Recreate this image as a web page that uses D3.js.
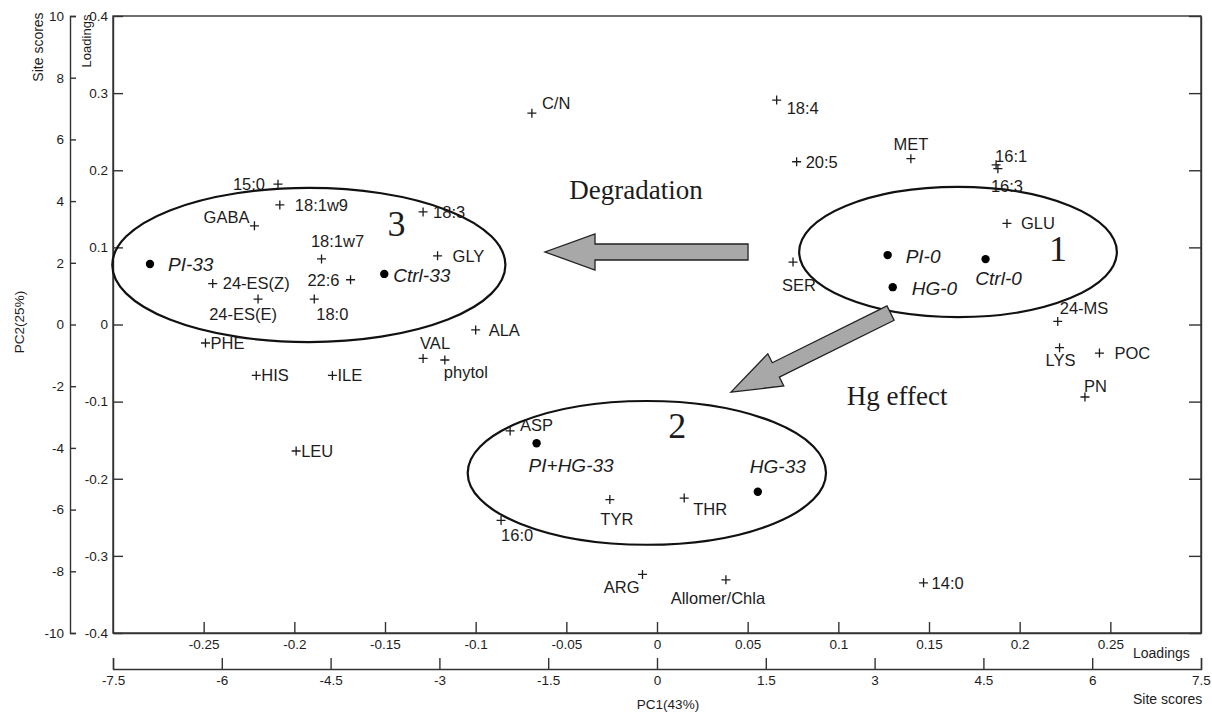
<!DOCTYPE html>
<html>
<head>
<meta charset="utf-8">
<script src="https://cdn.jsdelivr.net/npm/d3@7"></script>
<style>
  html, body { margin: 0; padding: 0; background: #fff; }
  svg { display: block; }
  text { font-family: "Liberation Sans", Arial, sans-serif; fill: #1c1c1c; }
  .serif { font-family: "Liberation Serif", "Times New Roman", serif; }
</style>
</head>
<body>
<svg id="chart" width="1212" height="712"></svg>
<script>
// Variable loadings (crosses), PC1 / PC2
const speciesNames = ["C/N", "18:4", "20:5", "MET", "16:1", "16:3", "GLU", "SER", "24-MS", "LYS", "POC", "PN",
  "15:0", "18:1w9", "GABA", "18:3", "18:1w7", "GLY", "24-ES(Z)", "22:6", "24-ES(E)", "18:0", "ALA", "PHE",
  "VAL", "phytol", "HIS", "ILE", "LEU", "ASP", "TYR", "THR", "16:0", "ARG", "Allomer/Chla", "14:0"];
const pc1Loadings = [-0.069, 0.066, 0.077, 0.140, 0.187, 0.188, 0.193, 0.075, 0.221, 0.222, 0.244, 0.236,
  -0.209, -0.208, -0.222, -0.129, -0.185, -0.121, -0.245, -0.169, -0.220, -0.189, -0.100, -0.249,
  -0.129, -0.117, -0.221, -0.179, -0.199, -0.081, -0.026, 0.015, -0.086, -0.008, 0.038, 0.147];
const pc2Loadings = [0.274, 0.291, 0.211, 0.215, 0.207, 0.202, 0.131, 0.081, 0.004, -0.030, -0.037, -0.094,
  0.182, 0.155, 0.128, 0.146, 0.085, 0.089, 0.053, 0.058, 0.033, 0.033, -0.007, -0.024,
  -0.044, -0.046, -0.066, -0.066, -0.164, -0.138, -0.227, -0.225, -0.254, -0.324, -0.331, -0.335];

// Site scores (dots), PC1 / PC2
const siteNames = ["PI-33", "Ctrl-33", "PI-0", "Ctrl-0", "HG-0", "PI+HG-33", "HG-33"];
const pc1Scores = [-6.99, -3.76, 3.18, 4.53, 3.25, -1.66, 1.39];
const pc2Scores = [1.96, 1.64, 2.25, 2.12, 1.21, -3.85, -5.42];

// Groupings drawn as ellipses (site-score units): number, centre, radii
const clusterIds = ["1", "2", "3"];
const clusterCx = [4.15, -0.14, -4.80];
const clusterCy = [2.35, -4.81, 1.93];
const clusterRx = [2.19, 2.47, 2.71];
const clusterRy = [2.11, 2.33, 2.50];

// Axis tick values
const loadingXTicks = [-0.25, -0.2, -0.15, -0.1, -0.05, 0, 0.05, 0.1, 0.15, 0.2, 0.25];
const loadingYTicks = [-0.4, -0.3, -0.2, -0.1, 0, 0.1, 0.2, 0.3, 0.4];
const scoreXTicks = [-7.5, -6, -4.5, -3, -1.5, 0, 1.5, 3, 4.5, 6, 7.5];
const scoreYTicks = [-10, -8, -6, -4, -2, 0, 2, 4, 6, 8, 10];

// Label placement: [dx, dy, anchor]
const speciesLabelPos = {
  "C/N": [10, -10, "start"], "18:4": [10, 8, "start"], "20:5": [9, 0, "start"], "MET": [0, -14, "middle"],
  "16:1": [-1, -9, "start"], "16:3": [-7, 18, "start"], "GLU": [14, 0, "start"], "SER": [6, 23, "middle"],
  "24-MS": [2, -13, "start"], "LYS": [1, 13, "middle"], "POC": [15, 0, "start"], "PN": [-1, -11, "start"],
  "15:0": [-13, 0, "end"], "18:1w9": [15, 0, "start"], "GABA": [-5, -9, "end"], "18:3": [10, 0, "start"],
  "18:1w7": [16, -18, "middle"], "GLY": [15, 0, "start"], "24-ES(Z)": [10, 0, "start"], "22:6": [-11, 0, "end"],
  "24-ES(E)": [-15, 15, "middle"], "18:0": [2, 15, "start"], "ALA": [13, 0, "start"], "PHE": [5, 0, "start"],
  "VAL": [12, -15, "middle"], "phytol": [-1, 12, "start"], "HIS": [5, 0, "start"], "ILE": [5, 0, "start"],
  "LEU": [5, 0, "start"], "ASP": [10, -6, "start"], "TYR": [7, 20, "middle"], "THR": [9, 11, "start"],
  "16:0": [0, 15, "start"], "ARG": [-3, 13, "end"], "Allomer/Chla": [-8, 18, "middle"], "14:0": [8, 0, "start"]
};
const siteLabelPos = {
  "PI-33": [18, 0, "start"], "Ctrl-33": [9, 1, "start"], "PI-0": [18, 1, "start"], "Ctrl-0": [13, 19, "middle"],
  "HG-0": [19, 1, "start"], "PI+HG-33": [-8, 22, "start"], "HG-33": [-8, -25, "start"]
};

(function () {
  const svg = d3.select("#chart");
  const plotLeft = 113, plotRight = 1201, plotTop = 16, plotBottom = 633;

  const xL = d3.scaleLinear().domain([-0.3, 0.3]).range([plotLeft, plotRight]);
  const yL = d3.scaleLinear().domain([-0.4, 0.4]).range([plotBottom, plotTop]);
  const xS = d3.scaleLinear().domain([-7.5, 7.5]).range([plotLeft, plotRight]);
  const yS = d3.scaleLinear().domain([-10, 10]).range([plotBottom, plotTop]);

  const fmt = d => d === 0 ? "0" : String(+d.toFixed(2));

  function styleAxis(g, size) {
    g.select(".domain").attr("stroke", "#333").attr("stroke-width", 1.4);
    g.selectAll(".tick line").attr("stroke", "#333").attr("stroke-width", 1.4);
    g.selectAll(".tick text").attr("font-size", size).attr("fill", "#1c1c1c")
      .attr("font-family", "'Liberation Sans', Arial, sans-serif");
  }

  // Plot frame
  svg.append("rect").attr("x", plotLeft).attr("y", plotTop)
    .attr("width", plotRight - plotLeft).attr("height", plotBottom - plotTop)
    .attr("fill", "none").attr("stroke", "#333").attr("stroke-width", 1.4);

  // Loadings axes on the frame
  svg.append("g").attr("transform", `translate(0,${plotBottom})`)
    .call(d3.axisBottom(xL).tickValues(loadingXTicks).tickFormat(fmt).tickSize(-11).tickSizeOuter(0).tickPadding(6))
    .call(g => styleAxis(g, 13.5));
  svg.append("g").attr("transform", `translate(${plotLeft},0)`)
    .call(d3.axisLeft(yL).tickValues(loadingYTicks).tickFormat(fmt).tickSize(-10).tickSizeOuter(0).tickPadding(5))
    .call(g => styleAxis(g, 13.5));
  svg.append("g").attr("transform", `translate(${plotRight},0)`)
    .call(d3.axisRight(yL).tickValues(loadingYTicks).tickFormat("").tickSize(-12).tickSizeOuter(0))
    .call(g => styleAxis(g, 13.5));

  // Site-score axes, offset from the frame
  svg.append("g").attr("transform", "translate(0,669)")
    .call(d3.axisBottom(xS).tickValues(scoreXTicks).tickFormat(fmt).tickSize(-11).tickSizeOuter(-11).tickPadding(6))
    .call(g => styleAxis(g, 13.5));
  svg.append("g").attr("transform", "translate(70,0)")
    .call(d3.axisLeft(yS).tickValues(scoreYTicks).tickFormat(fmt).tickSize(-6).tickSizeOuter(-6).tickPadding(6))
    .call(g => styleAxis(g, 13.5));

  // Axis titles
  svg.append("text").attr("x", 1133).attr("y", 658).attr("font-size", 14).text("Loadings");
  svg.append("text").attr("x", 1133).attr("y", 704).attr("font-size", 14).text("Site scores");
  svg.append("text").attr("x", 668).attr("y", 709).attr("font-size", 13.5).attr("text-anchor", "middle").text("PC1(43%)");
  svg.append("text").attr("transform", "translate(24,322) rotate(-90)").attr("font-size", 13.5)
    .attr("text-anchor", "middle").text("PC2(25%)");
  svg.append("text").attr("transform", "translate(43,47) rotate(-90)").attr("font-size", 14)
    .attr("text-anchor", "middle").text("Site scores");
  svg.append("text").attr("transform", "translate(91,41) rotate(-90)").attr("font-size", 13)
    .attr("text-anchor", "middle").text("Loadings");

  // Cluster ellipses and their numbers
  const clusterTextPos = { "1": [5.53, 2.48], "2": [0.28, -3.26], "3": [-3.59, 3.29] };
  clusterIds.forEach((id, i) => {
    svg.append("ellipse")
      .attr("cx", xS(clusterCx[i])).attr("cy", yS(clusterCy[i]))
      .attr("rx", xS(clusterRx[i]) - xS(0)).attr("ry", yS(0) - yS(clusterRy[i]))
      .attr("fill", "none").attr("stroke", "#111").attr("stroke-width", 2.2);
    const p = clusterTextPos[id];
    svg.append("text").attr("class", "serif").attr("x", xS(p[0])).attr("y", yS(p[1]))
      .attr("dy", "0.35em").attr("text-anchor", "middle").attr("font-size", 36).text(id);
  });

  // Block arrows
  function blockArrow(x0, y0, x1, y1, shaftHalf, headHalf, headLen) {
    const dx = x1 - x0, dy = y1 - y0, len = Math.hypot(dx, dy);
    const ux = dx / len, uy = dy / len, px = -uy, py = ux;
    const bx = x1 - ux * headLen, by = y1 - uy * headLen;
    const pts = [
      [x0 + px * shaftHalf, y0 + py * shaftHalf],
      [bx + px * shaftHalf, by + py * shaftHalf],
      [bx + px * headHalf, by + py * headHalf],
      [x1, y1],
      [bx - px * headHalf, by - py * headHalf],
      [bx - px * shaftHalf, by - py * shaftHalf],
      [x0 - px * shaftHalf, y0 - py * shaftHalf]
    ];
    return "M" + pts.map(p => p.join(",")).join("L") + "Z";
  }
  const arrows = [
    { from: [1.255, 2.35], to: [-1.544, 2.35], label: "Degradation", at: [-0.29, 4.36] },
    { from: [3.22, 0.37], to: [1.02, -2.19], label: "Hg effect", at: [3.31, -2.29] }
  ];
  arrows.forEach(a => {
    svg.append("path")
      .attr("d", blockArrow(xS(a.from[0]), yS(a.from[1]), xS(a.to[0]), yS(a.to[1]), 8, 18, 50))
      .attr("fill", "#a8a8a8").attr("stroke", "#222").attr("stroke-width", 1.3);
    svg.append("text").attr("class", "serif").attr("x", xS(a.at[0])).attr("y", yS(a.at[1]))
      .attr("dy", "0.35em").attr("text-anchor", "middle").attr("font-size", 27).text(a.label);
  });

  // Variable crosses
  const species = speciesNames.map((n, i) => ({ name: n, x: pc1Loadings[i], y: pc2Loadings[i] }));
  const sp = svg.append("g");
  sp.selectAll("path").data(species).join("path")
    .attr("transform", d => `translate(${xL(d.x)},${yL(d.y)})`)
    .attr("d", "M-4.5,0H4.5M0,-4.5V4.5")
    .attr("stroke", "#1c1c1c").attr("stroke-width", 1.3);
  sp.selectAll("text").data(species).join("text")
    .attr("x", d => xL(d.x) + speciesLabelPos[d.name][0])
    .attr("y", d => yL(d.y) + speciesLabelPos[d.name][1])
    .attr("dy", "0.35em")
    .attr("text-anchor", d => speciesLabelPos[d.name][2])
    .attr("font-size", 16.5)
    .text(d => d.name);

  // Site dots
  const sites = siteNames.map((n, i) => ({ name: n, x: pc1Scores[i], y: pc2Scores[i] }));
  const st = svg.append("g");
  st.selectAll("circle").data(sites).join("circle")
    .attr("cx", d => xS(d.x)).attr("cy", d => yS(d.y)).attr("r", 4.2).attr("fill", "#000");
  st.selectAll("text").data(sites).join("text")
    .attr("x", d => xS(d.x) + siteLabelPos[d.name][0])
    .attr("y", d => yS(d.y) + siteLabelPos[d.name][1])
    .attr("dy", "0.35em")
    .attr("text-anchor", d => siteLabelPos[d.name][2])
    .attr("font-size", 19).attr("font-style", "italic")
    .text(d => d.name);
})();
</script>
</body>
</html>
